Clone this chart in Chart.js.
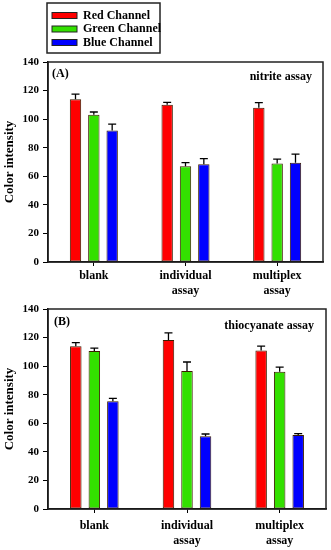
<!DOCTYPE html>
<html>
<head>
<meta charset="utf-8">
<script src="https://cdn.jsdelivr.net/npm/chart.js@4.4.1/dist/chart.umd.min.js"></script>
<style>
html,body{margin:0;padding:0;background:#fff;}
#wrap{position:relative;width:331px;height:550px;overflow:hidden;}
canvas{position:absolute;left:0;}
</style>
</head>
<body>
<div id="wrap">
<canvas id="cA" width="331" height="298" style="top:0px"></canvas>
<canvas id="cB" width="331" height="252" style="top:298px"></canvas>
</div>
<script>
const categories = [["blank"], ["individual", "assay"], ["multiplex", "assay"]];
const seriesNames = ["Red Channel", "Green Channel", "Blue Channel"];
const yTicks = [0, 20, 40, 60, 80, 100, 120, 140];

// Panel A: nitrite assay
const nitriteRed = [114, 110, 108];
const nitriteGreen = [103, 67, 69];
const nitriteBlue = [92, 68.5, 69.5];
const nitriteRedErr = [3.5, 1.8, 3.5];
const nitriteGreenErr = [2, 2.5, 3];
const nitriteBlueErr = [4.5, 3.8, 6];

// Panel B: thiocyanate assay
const thioRed = [114, 118.3, 111];
const thioGreen = [110.6, 96.6, 96];
const thioBlue = [75.4, 51, 51.8];
const thioRedErr = [2.4, 5, 3];
const thioGreenErr = [2, 6.3, 3.3];
const thioBlueErr = [2, 1.5, 1];

const FONT = "'Liberation Serif', 'Times New Roman', serif";
const colors = ["#ff0000", "#33e000", "#0000ff"];
const edge = "#3b1d00";

const errPlugin = {
  id: 'errbars',
  afterDatasetsDraw(chart) {
    const ctx = chart.ctx;
    const y = chart.scales.y;
    ctx.save();
    ctx.strokeStyle = '#000';
    ctx.lineWidth = 1.3;
    chart.data.datasets.forEach((ds, i) => {
      const meta = chart.getDatasetMeta(i);
      meta.data.forEach((bar, j) => {
        const top = y.getPixelForValue(ds.data[j] + ds.errors[j]);
        const x = bar.x;
        ctx.beginPath();
        ctx.moveTo(x, bar.y);
        ctx.lineTo(x, top);
        ctx.moveTo(x - 4, top);
        ctx.lineTo(x + 4, top);
        ctx.stroke();
      });
    });
    // frame
    const a = chart.chartArea;
    ctx.lineWidth = 1.5;
    ctx.strokeStyle = '#222';
    ctx.strokeRect(a.left, a.top, a.right - a.left, a.bottom - a.top);
    // annotations
    const o = chart.options.plugins.errbars;
    ctx.fillStyle = '#000';
    ctx.font = "bold 12px " + FONT;
    ctx.textBaseline = 'middle';
    ctx.textAlign = 'left';
    ctx.fillText(o.tag, a.left + o.tagDx, a.top + o.tagDy);
    ctx.textAlign = 'right';
    ctx.fillText(o.title, a.right - o.titleDx, a.top + o.titleDy);
    // legend
    if (o.legend) {
      ctx.lineWidth = 1.5;
      ctx.strokeStyle = '#222';
      ctx.strokeRect(47, 3, 113, 50);
      chart.data.datasets.forEach((ds, i) => {
        const cy = 15.5 + i * 13.5;
        ctx.fillStyle = ds.backgroundColor;
        ctx.fillRect(52, cy - 3, 25, 6);
        ctx.lineWidth = 1;
        ctx.strokeStyle = '#222';
        ctx.strokeRect(52, cy - 3, 25, 6);
        ctx.fillStyle = '#000';
        ctx.textAlign = 'left';
        ctx.fillText(ds.label, 83, cy);
      });
    }
    ctx.restore();
  }
};

function makeChart(id, r, g, b, re, ge, be, pad, xh, xpad, opts) {
  const vals = [r, g, b], errs = [re, ge, be];
  return new Chart(document.getElementById(id), {
    type: 'bar',
    data: {
      labels: categories,
      datasets: seriesNames.map((n, i) => ({
        label: n,
        data: vals[i],
        errors: errs[i],
        backgroundColor: colors[i],
        borderColor: edge,
        borderWidth: 1,
        borderSkipped: false,
        barPercentage: 0.62,
        categoryPercentage: 0.6
      }))
    },
    options: {
      responsive: false,
      animation: false,
      layout: { padding: pad },
      plugins: { legend: { display: false }, tooltip: { enabled: false }, errbars: opts },
      scales: {
        x: {
          grid: { display: true, drawOnChartArea: false, offset: false, tickLength: 4, color: '#000' },
          border: { display: true, color: '#000', width: 1.5 },
          ticks: { color: '#000', font: { family: FONT, weight: 'bold', size: 12, lineHeight: 1.22 }, padding: xpad, maxRotation: 0, autoSkip: false },
          afterFit: s => { s.height = xh; }
        },
        y: {
          min: 0, max: 140,
          afterBuildTicks: s => { s.ticks = yTicks.map(v => ({ value: v })); },
          grid: { display: true, drawOnChartArea: false, tickLength: 5, color: '#000' },
          border: { display: true, color: '#000', width: 1.5 },
          ticks: { color: '#000', font: { family: FONT, weight: 'bold', size: 11 }, padding: 4 },
          title: { display: true, text: 'Color intensity', color: '#000', font: { family: FONT, weight: 'bold', size: 13 }, padding: { top: 1.5, bottom: 0 } },
          afterFit: s => { s.width = 48; }
        }
      }
    },
    plugins: [errPlugin]
  });
}

makeChart('cA', nitriteRed, nitriteGreen, nitriteBlue, nitriteRedErr, nitriteGreenErr, nitriteBlueErr,
  { left: 0, right: 8, top: 62, bottom: 0 }, 36, 3,
  { tag: '(A)', tagDx: 4, tagDy: 12, title: 'nitrite assay', titleDx: 11, titleDy: 15, legend: true });
makeChart('cB', thioRed, thioGreen, thioBlue, thioRedErr, thioGreenErr, thioBlueErr,
  { left: 0, right: 5, top: 11, bottom: 0 }, 41, 6,
  { tag: '(B)', tagDx: 6, tagDy: 13, title: 'thiocyanate assay', titleDx: 12, titleDy: 17, legend: false });
</script>
</body>
</html>
